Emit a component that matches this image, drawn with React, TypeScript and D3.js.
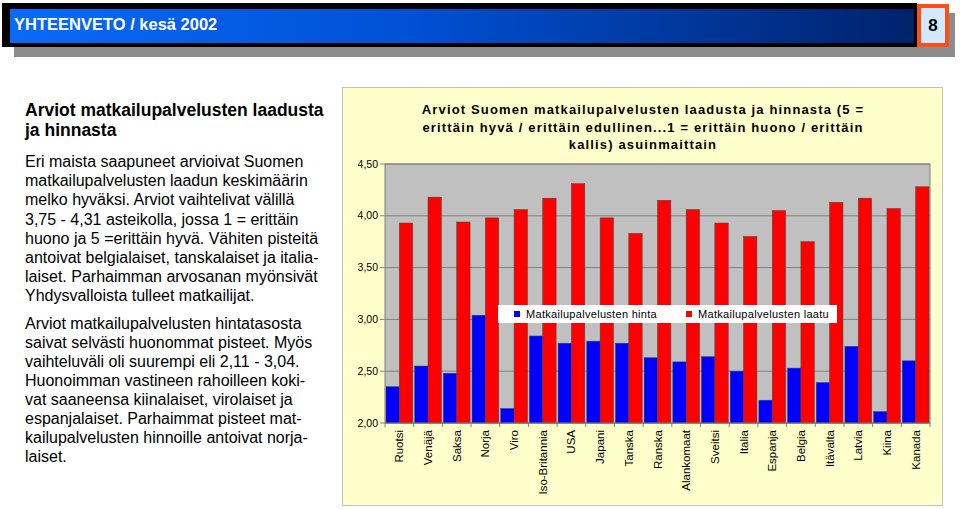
import React from "react";
import * as d3 from "d3";

const countries = [
  "Ruotsi", "Venäjä", "Saksa", "Norja", "Viro", "Iso-Britannia", "USA", "Japani",
  "Tanska", "Ranska", "Alankomaat", "Sveitsi", "Italia", "Espanja", "Belgia",
  "Itävalta", "Latvia", "Kiina", "Kanada",
];
const hinta = [2.35, 2.55, 2.48, 3.04, 2.14, 2.84, 2.77, 2.79, 2.77, 2.63, 2.59, 2.64, 2.5, 2.22, 2.53, 2.39, 2.74, 2.11, 2.6];
const laatu = [3.93, 4.18, 3.94, 3.98, 4.06, 4.17, 4.31, 3.98, 3.83, 4.15, 4.06, 3.93, 3.8, 4.05, 3.75, 4.13, 4.17, 4.07, 4.28];
const yTicks = [2, 2.5, 3, 3.5, 4, 4.5];
const seriesNames = ["Matkailupalvelusten hinta", "Matkailupalvelusten laatu"];
const seriesColors = ["#0000ff", "#ff0000"];

const chartTitle = [
  "Arviot Suomen matkailupalvelusten laadusta ja hinnasta (5 =",
  "erittäin hyvä / erittäin edullinen...1 = erittäin huono / erittäin",
  "kallis) asuinmaittain",
];
const heading = ["Arviot matkailupalvelusten laadusta", "ja hinnasta"];
const para1 = [
  "Eri maista saapuneet arvioivat Suomen",
  "matkailupalvelusten laadun keskimäärin",
  "melko hyväksi. Arviot vaihtelivat välillä",
  "3,75 - 4,31 asteikolla, jossa 1 = erittäin",
  "huono ja 5 =erittäin hyvä. Vähiten pisteitä",
  "antoivat belgialaiset, tanskalaiset ja italia-",
  "laiset. Parhaimman arvosanan myönsivät",
  "Yhdysvalloista tulleet matkailijat.",
];
const para2 = [
  "Arviot matkailupalvelusten hintatasosta",
  "saivat selvästi huonommat pisteet. Myös",
  "vaihteluväli oli suurempi eli 2,11 - 3,04.",
  "Huonoimman vastineen rahoilleen koki-",
  "vat saaneensa kiinalaiset, virolaiset ja",
  "espanjalaiset. Parhaimmat pisteet mat-",
  "kailupalvelusten hinnoille antoivat norja-",
  "laiset.",
];

const font = "'Liberation Sans', Arial, sans-serif";

const App = () => {
  // plot area
  const left = 385;
  const right = 930;
  const top = 164;
  const bottom = 423;

  const x = d3.scaleBand<string>().domain(countries).range([left, right]).paddingInner(0.07).paddingOuter(0.035);
  const x1 = d3.scaleBand<number>().domain([0, 1]).range([0, x.bandwidth()]);
  const y = d3.scaleLinear().domain([2, 4.5]).range([bottom, top]);
  const fmt = (v: number) => d3.format(".2f")(v).replace(".", ",");
  const step = (right - left) / countries.length;

  return (
    <svg width={960} height={509} style={{ position: "absolute", left: 0, top: 0, background: "#fff" }} fontFamily={font}>
      <defs>
        <linearGradient id="hdr" x1="0" x2="1" y1="0" y2="0">
          <stop offset="0%" stopColor="#0a6af8" />
          <stop offset="45%" stopColor="#0050d4" />
          <stop offset="100%" stopColor="#00226c" />
        </linearGradient>
      </defs>

      {/* header */}
      <rect x={14} y={13} width={941} height={44} fill="#8c8c8c" />
      <rect x={2} y={3} width={915} height={44} fill="#000" />
      <rect x={10} y={9} width={904} height={34} fill="url(#hdr)" />
      <text x={14} y={30} fill="#fff" fontWeight="bold" fontSize={16.5}>YHTEENVETO / kesä 2002</text>
      <rect x={917} y={4} width={32} height={43} fill="#ff4e14" />
      <rect x={921} y={8} width={24} height={35} fill="#d2e9ff" />
      <text x={933} y={31} textAnchor="middle" fontWeight="bold" fontSize={17}>8</text>

      {/* left text */}
      {heading.map((t, i) => (
        <text key={"h" + i} x={25} y={116 + i * 20} fontWeight="bold" fontSize={17.5}>{t}</text>
      ))}
      {para1.map((t, i) => (
        <text key={"a" + i} x={25} y={167 + i * 19.2} fontSize={16}>{t}</text>
      ))}
      {para2.map((t, i) => (
        <text key={"b" + i} x={25} y={329 + i * 19} fontSize={16}>{t}</text>
      ))}

      {/* chart panel */}
      <rect x={342.5} y={87.5} width={600} height={418} fill="#ffffcc" stroke="#c0c0c0" />
      {chartTitle.map((t, i) => (
        <text key={"t" + i} x={643} y={114 + i * 17.5} textAnchor="middle" fontWeight="bold" fontSize={13} letterSpacing={1.15}>{t}</text>
      ))}

      <rect x={left} y={top} width={right - left} height={bottom - top} fill="#c0c0c0" stroke="#808080" />
      {yTicks.map((v) => (
        <g key={v}>
          <line x1={left} x2={right} y1={y(v)} y2={y(v)} stroke="#808080" />
          <line x1={left - 5} x2={left} y1={y(v)} y2={y(v)} stroke="#808080" />
          <text x={left - 7} y={y(v)} dy="0.35em" textAnchor="end" fontSize={10.5}>{fmt(v)}</text>
        </g>
      ))}

      {countries.map((c, i) => (
        <g key={c}>
          {[hinta[i], laatu[i]].map((v, s) => (
            <rect key={s} x={(x(c) ?? 0) + (x1(s) ?? 0)} y={y(v)} width={x1.bandwidth()} height={bottom - y(v)}
              fill={seriesColors[s]} stroke="#404040" strokeWidth={0.5} />
          ))}
          <text transform={`translate(${(x(c) ?? 0) + x.bandwidth() / 2},${bottom + 7}) rotate(-90)`}
            dy="0.35em" textAnchor="end" fontSize={11.5}>{c}</text>
        </g>
      ))}
      <line x1={left} x2={right} y1={bottom} y2={bottom} stroke="#808080" />
      {d3.range(countries.length + 1).map((i) => (
        <line key={i} x1={left + i * step} x2={left + i * step} y1={bottom} y2={bottom + 4} stroke="#808080" />
      ))}

      {/* legend */}
      <rect x={498} y={305} width={339} height={18} fill="#fff" />
      {seriesNames.map((n, s) => (
        <g key={n} transform={`translate(${s === 0 ? 514 : 686},314)`}>
          <rect x={0} y={-3} width={6} height={6} fill={seriesColors[s]} />
          <text x={12} dy="0.35em" fontSize={11} letterSpacing={0.3}>{n}</text>
        </g>
      ))}
    </svg>
  );
};

export default App;
